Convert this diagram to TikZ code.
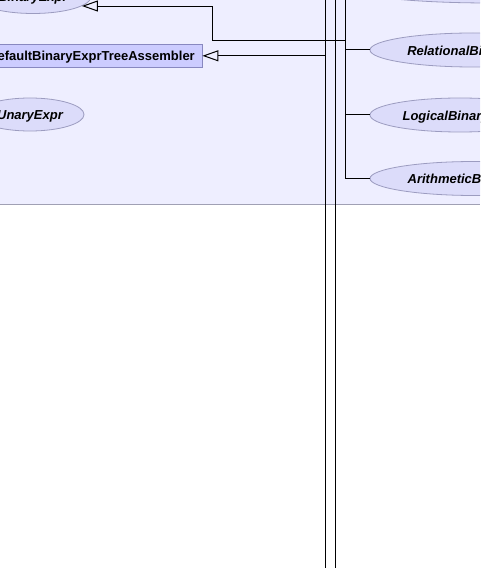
\documentclass[tikz,border=0pt]{standalone}
\usepackage{fontspec}
\setmainfont{Liberation Sans}
\usetikzlibrary{shapes.geometric,arrows.meta}
\definecolor{panelbg}{HTML}{EEEEFF}
\definecolor{panelline}{HTML}{A0A0B4}
\definecolor{ellfill}{HTML}{DCDCFA}
\definecolor{elldraw}{HTML}{9C9CC0}
\definecolor{boxfill}{HTML}{CCCCFF}
\definecolor{boxdraw}{HTML}{8888C0}
\tikzset{
  cls/.style={ellipse, fill=ellfill, draw=elldraw, line width=0.8pt, inner sep=0pt,
    minimum height=34pt, text height=11pt, text depth=0pt,
    font=\fontsize{13}{15}\selectfont\bfseries\itshape},
  asmbox/.style={rectangle, fill=boxfill, draw=boxdraw, line width=0.8pt, inner sep=0pt,
    minimum height=23.5pt, text height=9.5pt, text depth=1pt,
    font=\fontsize{13}{15}\selectfont\bfseries},
  wire/.style={draw=black, line width=1pt},
  inh/.style={wire, -{Triangle[open, length=16pt, width=11pt, line width=1pt]}},
}
\begin{document}
\begin{tikzpicture}[x=1pt, y=-1pt]
\useasboundingbox (0,0) rectangle (480,569);
\clip (0,0) rectangle (480,569);
% panel
\fill[panelbg] (0,0) rectangle (480,204);
\draw[panelline, line width=1.2pt] (0,204.4) -- (480,204.4);
% nodes
\node[cls, minimum width=116pt] (binexpr) at (33,-3.5) {BinaryExpr};
\node[asmbox, minimum width=221pt] (asm) at (91.5,55.8) {DefaultBinaryExprTreeAssembler};
\node[cls, minimum width=108pt, minimum height=33pt] (unary) at (30,114.5) {UnaryExpr};
\node[cls, minimum width=296pt] (topr) at (490,-14) {};
\node[cls, minimum width=206pt] (rel) at (473,50) {RelationalBinaryExpr};
\node[cls, minimum width=180pt] (logi) at (460,115) {LogicalBinaryExpr};
\node[cls, minimum width=209pt] (arith) at (474.5,178.5) {ArithmeticBinaryExpr};
% free ends
\coordinate (ltop) at (325.5,0);
\coordinate (lbot) at (325.5,568);
\coordinate (mtop) at (335.5,0);
\coordinate (mbot) at (335.5,568);
\coordinate (rtop) at (345.5,0);
\coordinate (j40) at (345.5,40.3);
\coordinate (k40) at (212,40.3);
\coordinate (j55) at (325.5,55.8);
% connectors
\draw[wire] (ltop) -- (lbot);
\draw[wire] (mtop) -- (mbot);
\draw[wire] (rtop) |- (arith.west);
\draw[wire] (rel.west -| rtop) -- (rel.west);
\draw[wire] (logi.west -| rtop) -- (logi.west);
\draw[inh] (j40) -- (k40) |- (binexpr.-11);
\draw[inh] (j55) -- (asm.east);
\end{tikzpicture}
\end{document}
